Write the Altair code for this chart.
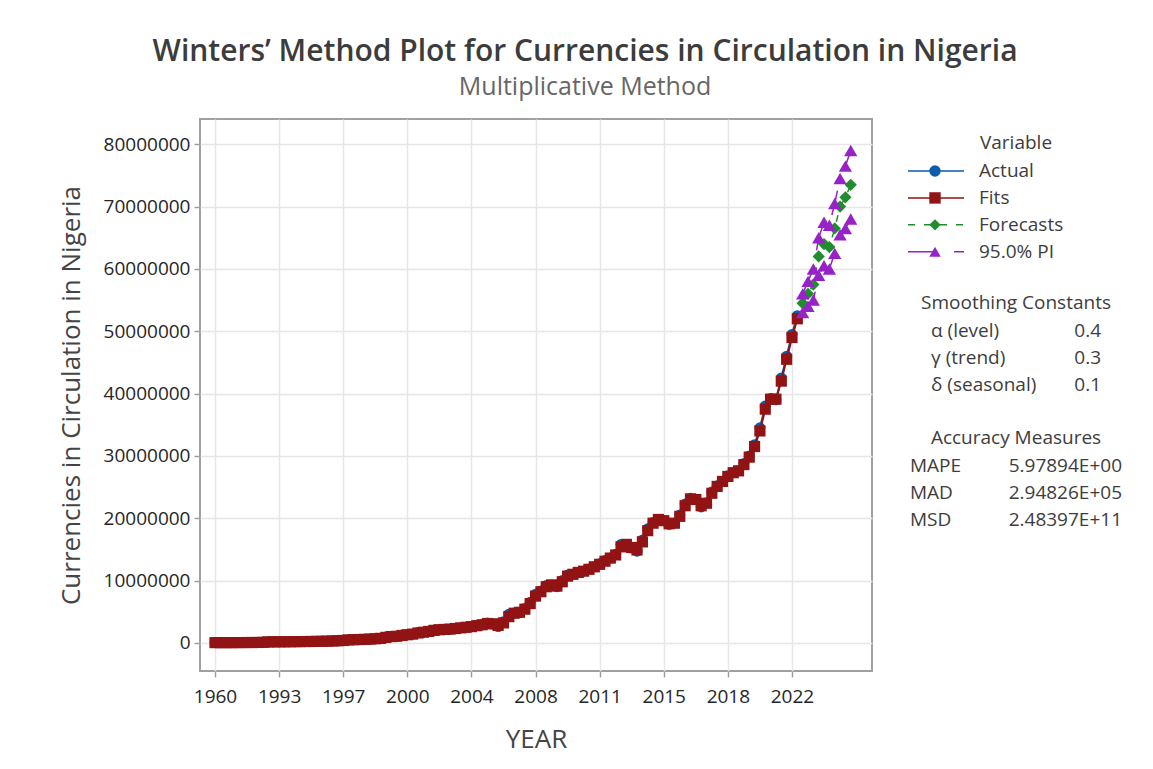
import altair as alt
import pandas as pd

# ---------------- data (values in millions) ----------------
year_labels = ["1960", "1993", "1997", "2000", "2004", "2008", "2011", "2015", "2018", "2022"]
tick_step = 12

actual = [
    0.03, 0.03, 0.03, 0.03, 0.04, 0.04, 0.05, 0.05, 0.06, 0.15,
    0.16, 0.16, 0.17, 0.17, 0.18, 0.19, 0.20, 0.21, 0.22, 0.23,
    0.25, 0.27, 0.30, 0.33, 0.45, 0.48, 0.50, 0.53, 0.56, 0.60,
    0.65, 0.75, 0.95, 1.00, 1.05, 1.25, 1.30, 1.40, 1.65, 1.70,
    1.85, 2.05, 2.10, 2.15, 2.20, 2.30, 2.40, 2.50, 2.60, 2.80,
    2.90, 3.20, 3.00, 2.60, 3.40, 4.60, 4.80, 4.90, 5.50, 6.50,
    7.80, 8.30, 9.20, 9.30, 9.00, 10.0, 10.9, 11.0, 11.3, 11.5,
    11.8, 12.2, 12.7, 13.2, 13.6, 14.2, 15.8, 15.8, 15.2, 14.7,
    16.5, 18.3, 19.3, 19.8, 19.6, 19.0, 19.2, 20.5, 22.3, 23.2,
    23.0, 21.8, 22.5, 24.2, 25.2, 25.9, 26.8, 27.3, 27.6, 28.8,
    30.0, 31.8, 34.5, 38.0, 39.2, 39.0, 42.5, 46.0, 49.5, 52.5,
]
fits = [
    0.03, 0.03, 0.03, 0.03, 0.04, 0.04, 0.05, 0.05, 0.06, 0.08,
    0.15, 0.16, 0.17, 0.17, 0.18, 0.19, 0.20, 0.21, 0.22, 0.23,
    0.25, 0.27, 0.30, 0.33, 0.38, 0.47, 0.50, 0.53, 0.56, 0.60,
    0.65, 0.72, 0.88, 1.00, 1.05, 1.18, 1.30, 1.40, 1.58, 1.70,
    1.83, 2.00, 2.10, 2.15, 2.20, 2.30, 2.40, 2.50, 2.60, 2.75,
    2.90, 3.10, 3.05, 2.80, 3.20, 4.20, 4.75, 4.90, 5.40, 6.30,
    7.50, 8.20, 9.00, 9.30, 9.10, 9.80, 10.7, 11.0, 11.3, 11.5,
    11.8, 12.2, 12.6, 13.1, 13.6, 14.1, 15.4, 15.8, 15.3, 14.9,
    16.2, 18.0, 19.2, 19.8, 19.6, 19.1, 19.2, 20.3, 22.0, 23.1,
    23.0, 22.0, 22.4, 24.0, 25.1, 25.9, 26.7, 27.3, 27.6, 28.6,
    29.8, 31.5, 34.0, 37.5, 39.1, 39.1, 42.0, 45.5, 49.0, 52.0,
]
forecasts = [54.5, 56.0, 57.5, 62.0, 64.0, 63.5, 66.5, 70.0, 71.5, 73.5]
pi_upper = [56.0, 58.0, 60.0, 65.0, 67.5, 67.0, 70.5, 74.5, 76.5, 79.0]
pi_lower = [53.0, 54.0, 55.0, 59.0, 60.5, 60.0, 62.5, 65.5, 66.5, 68.0]

series_names = ["Actual", "Fits", "Forecasts", "95.0% PI"]
series_colors = ["#0b5cab", "#921313", "#1f8c2e", "#9722c6"]

smooth_labels = ["\u03b1 (level)", "\u03b3 (trend)", "\u03b4 (seasonal)"]
smooth_values = ["0.4", "0.3", "0.1"]
acc_labels = ["MAPE", "MAD", "MSD"]
acc_values = ["5.97894E+00", "2.94826E+05", "2.48397E+11"]

# ---------------- frames ----------------
M = 1e6
n_act = len(actual)
df_act = pd.DataFrame({"t": range(n_act), "v": [a * M for a in actual]})
df_fit = pd.DataFrame({"t": range(n_act), "v": [f * M for f in fits]})
t_fc = list(range(n_act, n_act + len(forecasts)))
df_fc = pd.DataFrame({"t": t_fc, "v": [f * M for f in forecasts]})
df_pi = pd.DataFrame({
    "t": t_fc + t_fc,
    "v": [u * M for u in pi_upper] + [l * M for l in pi_lower],
    "bound": ["upper"] * len(t_fc) + ["lower"] * len(t_fc),
})

FONT = "Open Sans"
TXT = "#3d3d3d"
tick_vals = list(range(0, tick_step * len(year_labels), tick_step))
label_expr = "[" + ",".join("'%s'" % y for y in year_labels) + "][round(datum.value/%d)]" % tick_step

x_enc = alt.X(
    "t:Q",
    scale=alt.Scale(domain=[-2.81, 122.98], nice=False, zero=False),
    axis=alt.Axis(values=tick_vals, labelExpr=label_expr, title="YEAR",
                  labelPadding=10, titlePadding=20),
)
y_enc = alt.Y(
    "v:Q",
    scale=alt.Scale(domain=[-4.52e6, 84.06e6], nice=False, zero=False),
    axis=alt.Axis(values=[i * 1e7 for i in range(9)], format="d",
                  title="Currencies in Circulation in Nigeria",
                  labelPadding=4, titlePadding=19),
)

c_act, c_fit, c_fc, c_pi = series_colors

act_line = alt.Chart(df_act).mark_line(color=c_act, strokeWidth=2).encode(x=x_enc, y=y_enc)
act_pts = alt.Chart(df_act).mark_point(shape="circle", filled=True, size=120, color=c_act, opacity=1).encode(x=x_enc, y=y_enc)
fit_line = alt.Chart(df_fit).mark_line(color=c_fit, strokeWidth=2).encode(x=x_enc, y=y_enc)
fit_pts = alt.Chart(df_fit).mark_point(shape="square", filled=True, size=125, color=c_fit, opacity=1).encode(x=x_enc, y=y_enc)
fc_line = alt.Chart(df_fc).mark_line(color=c_fc, strokeWidth=1.5, strokeDash=[7, 9]).encode(x=x_enc, y=y_enc)
fc_pts = alt.Chart(df_fc).mark_point(shape="diamond", filled=True, size=150, color=c_fc, opacity=1).encode(x=x_enc, y=y_enc)
pi_line = alt.Chart(df_pi).mark_line(color=c_pi, strokeWidth=1.5, strokeDash=[25, 21]).encode(x=x_enc, y=y_enc, detail="bound:N")
pi_pts = alt.Chart(df_pi).mark_point(shape="triangle-up", filled=True, size=175, color=c_pi, opacity=1).encode(x=x_enc, y=y_enc)

main = alt.layer(act_line, act_pts, fit_line, fit_pts, fc_line, fc_pts, pi_line, pi_pts).properties(
    width=672, height=552,
    view=alt.ViewBackground(stroke="#a0a0a0", strokeWidth=2),
)

# ---------------- side panel (legend + statistics) ----------------
leg_rows = [1.03, 2.02, 3.01, 4.0]
smooth_rows = [6.91, 7.9, 8.9]
acc_rows = [11.88, 12.87, 13.86]
head_text = ["Variable", "Smoothing Constants", "Accuracy Measures"]
head_rows = [0.0, 5.88, 10.85]

df_leg = pd.DataFrame({"name": series_names, "row": leg_rows})
df_head = pd.DataFrame({"txt": head_text, "row": head_rows})
df_sm = pd.DataFrame({"lab": smooth_labels, "val": smooth_values, "row": smooth_rows})
df_acc = pd.DataFrame({"lab": acc_labels, "val": acc_values, "row": acc_rows})

row_h = 27.2
side_y = alt.Y("row:Q", scale=alt.Scale(domain=[-24 / row_h, (552 - 24) / row_h], reverse=True, nice=False, zero=False), axis=None)
col_scale = alt.Scale(domain=series_names, range=series_colors)
shape_scale = alt.Scale(domain=series_names, range=["circle", "square", "diamond", "triangle-up"])
dash_scale = alt.Scale(domain=series_names, range=[[1, 0], [1, 0], [7, 9], [25, 21]])

leg_rule = alt.Chart(df_leg).mark_rule(strokeWidth=1.5).encode(
    x=alt.value(15), x2=alt.value(71), y=side_y,
    color=alt.Color("name:N", scale=col_scale, legend=None),
    strokeDash=alt.StrokeDash("name:N", scale=dash_scale, legend=None),
)
leg_pt = alt.Chart(df_leg).mark_point(filled=True, size=130, opacity=1).encode(
    x=alt.value(42), y=side_y,
    color=alt.Color("name:N", scale=col_scale, legend=None),
    shape=alt.Shape("name:N", scale=shape_scale, legend=None),
)
txt_props = dict(font=FONT, fontSize=19, color=TXT, baseline="middle")
leg_txt = alt.Chart(df_leg).mark_text(align="left", **txt_props).encode(
    x=alt.value(86), y=side_y, text="name:N")
head = alt.Chart(df_head).mark_text(align="center", **txt_props).encode(
    x=alt.value(123), y=side_y, text="txt:N")
sm_lab = alt.Chart(df_sm).mark_text(align="left", **txt_props).encode(
    x=alt.value(38), y=side_y, text="lab:N")
sm_val = alt.Chart(df_sm).mark_text(align="right", **txt_props).encode(
    x=alt.value(208), y=side_y, text="val:N")
acc_lab = alt.Chart(df_acc).mark_text(align="left", **txt_props).encode(
    x=alt.value(17), y=side_y, text="lab:N")
acc_val = alt.Chart(df_acc).mark_text(align="right", **txt_props).encode(
    x=alt.value(229), y=side_y, text="val:N")

side = alt.layer(leg_rule, leg_pt, leg_txt, head, sm_lab, sm_val, acc_lab, acc_val).properties(
    width=240, height=552,
    view=alt.ViewBackground(strokeOpacity=0),
)

chart = alt.hconcat(main, side, spacing=20).properties(
    title=alt.TitleParams(
        text="Winters\u2019 Method Plot for Currencies in Circulation in Nigeria",
        subtitle="Multiplicative Method",
        anchor="middle", font=FONT, fontSize=30, fontWeight=600, color="#3c3c3c",
        subtitleFont=FONT, subtitleFontSize=25, subtitleColor="#666666",
        subtitlePadding=8, offset=18, dx=-10,
    ),
    padding={"left": 49, "top": 29, "right": 6, "bottom": 1},
    background="white",
).configure_concat(spacing=20).configure_axis(
    domain=False, tickColor="#a0a0a0", tickSize=6, tickWidth=1.5,
    labelFont=FONT, labelFontSize=19, labelColor="#262626",
    titleFont=FONT, titleFontSize=26, titleFontWeight="normal", titleColor="#444444",
    gridColor="#e6e6e6", gridWidth=1.5,
)

chart.save("out.html", embed_options={"renderer": "svg", "actions": False})
